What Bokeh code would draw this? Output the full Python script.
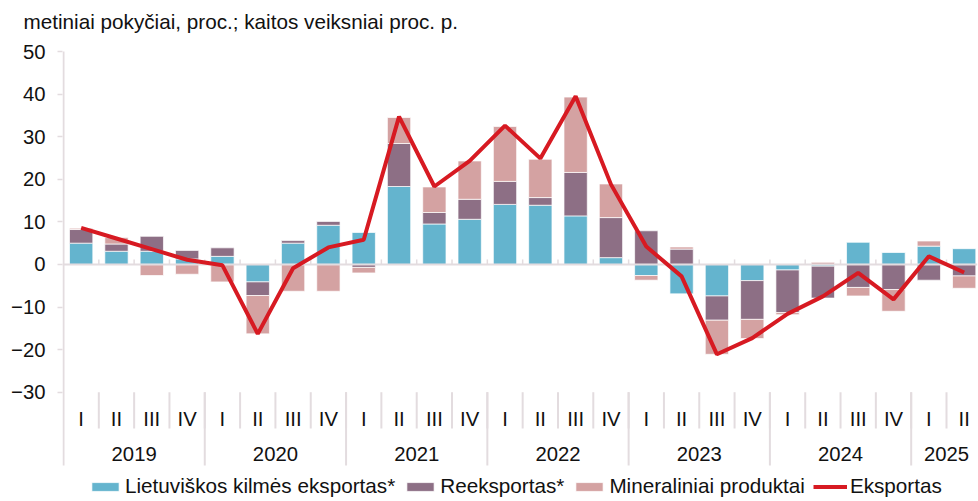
import numpy as np
from bokeh.plotting import figure
from bokeh.models import ColumnDataSource, Range1d, FixedTicker, Legend, LegendItem
from bokeh.core.properties import value
from bokeh.embed import file_html
from bokeh.resources import INLINE

# ---------------- data ----------------
years = ["2019", "2020", "2021", "2022", "2023", "2024", "2025"]
year_quarters = [4, 4, 4, 4, 4, 4, 2]
quarters = ["I", "II", "III", "IV"] * 6 + ["I", "II"]

lietuviskos = [5.0, 3.1, 3.1, 1.3,
               1.9, -4.1, 5.0, 9.2,
               7.5, 18.3, 9.5, 10.6,
               14.1, 13.9, 11.4, 1.6,
               -2.6, -6.9, -7.4, -3.8,
               -1.3, -0.4, 5.2, 2.8,
               4.3, 3.7]
reeksportas = [3.2, 1.7, 3.5, 2.0,
               2.0, -3.2, 0.6, 0.9,
               -0.7, 10.1, 2.7, 4.7,
               5.4, 1.8, 10.2, 9.4,
               7.9, 3.6, -5.7, -9.1,
               -10.0, -7.5, -5.4, -5.9,
               -3.7, -2.7]
mineraliniai = [0.3, 1.5, -2.6, -2.3,
                -4.1, -9.0, -6.3, -6.3,
                -1.3, 6.1, 6.0, 9.0,
                12.9, 9.0, 17.7, 7.9,
                -1.1, 0.5, -8.0, -4.5,
                -0.5, 0.5, -2.0, -5.1,
                1.2, -2.9]
eksportas = [8.6, 6.1, 3.6, 1.1,
             -0.2, -16.3, -0.9, 4.0,
             5.8, 34.7, 18.3, 24.3,
             32.6, 24.9, 39.5, 18.8,
             4.2, -2.8, -21.1, -17.3,
             -11.6, -7.5, -2.0, -8.2,
             1.9, -1.9]

series_labels = ["Lietuviškos kilmės eksportas*", "Reeksportas*", "Mineraliniai produktai"]
line_label = "Eksportas"
y_ticks = [-30, -20, -10, 0, 10, 20, 30, 40, 50]
title_text = "metiniai pokyčiai, proc.; kaitos veiksniai proc. p."

# ---------------- style ----------------
bar_colors = ["#64B4CE", "#8D6F85", "#D4A2A2"]
line_color = "#D71A22"
grid_grey = "#E3DCDF"
FONT = "Liberation Sans"
TXT = "#111111"

# geometry (pixels -> data)
PX_PER_UNIT = 4.2588     # vertical
PX_PER_CAT = 35.32       # horizontal
TOP_TICK_PAGE = 51       # page px of value 50
FRAME_TOP = 38           # page px of frame top
FRAME_BOTTOM = 500
FRAME_LEFT = 62
FRAME_W = 915
x_start = -0.5 - 1.0 / PX_PER_CAT
x_end = x_start + FRAME_W / PX_PER_CAT


def yval(page_y):
    return 50.0 - (page_y - TOP_TICK_PAGE) / PX_PER_UNIT


n = len(quarters)
xs = np.arange(n, dtype=float)

p = figure(width=FRAME_LEFT + FRAME_W + 1, height=FRAME_BOTTOM,
           output_backend="svg", toolbar_location=None,
           x_range=Range1d(x_start, x_end), y_range=Range1d(yval(FRAME_BOTTOM), yval(FRAME_TOP)),
           min_border_left=FRAME_LEFT, min_border_right=1, min_border_top=FRAME_TOP,
           min_border_bottom=0)
p.xaxis.visible = False
p.xgrid.visible = False
p.ygrid.visible = False
p.outline_line_color = None
p.background_fill_color = "white"
p.border_fill_color = "white"

# title
p.title.text = title_text
p.title.text_font = FONT
p.title.text_font_size = "20.7px"
p.title.text_font_style = "normal"
p.title.text_color = TXT
p.title.align = "left"
p.title.offset = -39
p.title.standoff = 11

# stacked bars (positive and negative stacks)
pos = np.zeros(n)
neg = np.zeros(n)
bar_renderers = []
for vals, col in zip([lietuviskos, reeksportas, mineraliniai], bar_colors):
    v = np.array(vals, dtype=float)
    bottom = np.where(v >= 0, pos, neg)
    top = bottom + v
    pos = np.where(v >= 0, top, pos)
    neg = np.where(v < 0, top, neg)
    src = ColumnDataSource(dict(x=xs, bottom=bottom, top=top))
    r = p.vbar(x="x", bottom="bottom", top="top", width=0.66, source=src,
               fill_color=col, line_color="white", line_width=1, line_alpha=0.7)
    bar_renderers.append(r)

# zero line with small ticks
p.segment(x0=[x_start], y0=[0], x1=[x_end], y1=[0], line_color=grid_grey, line_width=2)
bounds = xs[:-1] + 0.5
p.segment(x0=bounds, y0=np.zeros(len(bounds)), x1=bounds,
          y1=np.full(len(bounds), 5 / PX_PER_UNIT), line_color=grid_grey, line_width=1.5)

# line
line_r = p.line(xs, eksportas, line_color=line_color, line_width=4)

# y axis (manual line) and ticks
p.segment(x0=[-0.5], y0=[yval(465)], x1=[-0.5], y1=[50], line_color=grid_grey, line_width=2)
p.yaxis.ticker = FixedTicker(ticks=y_ticks)
p.yaxis.axis_line_color = None
p.yaxis.major_tick_line_color = grid_grey
p.yaxis.major_tick_line_width = 1.5
p.yaxis.major_tick_out = 5
p.yaxis.major_tick_in = 0
p.yaxis.minor_tick_line_color = None
p.yaxis.major_label_standoff = 12
p.yaxis.major_label_text_font = FONT
p.yaxis.major_label_text_font_size = "20.3px"
p.yaxis.major_label_text_color = TXT
p.yaxis.major_label_overrides = {t: ("\u2212" + str(abs(t)) if t < 0 else str(t)) for t in y_ticks}

# category axis drawn below
sep_top = -30
q_sep_bottom = yval(428)
y_sep_bottom = yval(465)
p.segment(x0=bounds, y0=np.full(len(bounds), sep_top), x1=bounds,
          y1=np.full(len(bounds), q_sep_bottom), line_color=grid_grey, line_width=2)
year_ends = np.cumsum(year_quarters)[:-1] - 0.5
p.segment(x0=year_ends, y0=np.full(len(year_ends), sep_top), x1=year_ends,
          y1=np.full(len(year_ends), y_sep_bottom), line_color=grid_grey, line_width=2)
p.text(x=xs, y=np.full(n, yval(418)), text=quarters, text_align="center",
       text_baseline="middle", text_font=value(FONT), text_font_size="20.3px",
       text_color=TXT)
starts = np.concatenate([[0], np.cumsum(year_quarters)[:-1]])
year_centers = starts + (np.array(year_quarters) - 1) / 2.0
p.text(x=year_centers, y=np.full(len(years), yval(453)), text=years, text_align="center",
       text_baseline="middle", text_font=value(FONT), text_font_size="20.3px",
       text_color=TXT)

# legend
items = [LegendItem(label=lab, renderers=[r]) for lab, r in zip(series_labels, bar_renderers)]
items.append(LegendItem(label=line_label, renderers=[line_r]))
legend = Legend(items=items, orientation="horizontal", location=(26, 2),
                padding=0, margin=0, spacing=8, label_standoff=3,
                glyph_width=34, glyph_height=11, label_height=20,
                label_text_font=FONT, label_text_font_size="20.7px",
                label_text_color=TXT, border_line_color=None,
                background_fill_alpha=0)
p.add_layout(legend, "center")

open("out.html", "w").write(file_html(p, INLINE))
